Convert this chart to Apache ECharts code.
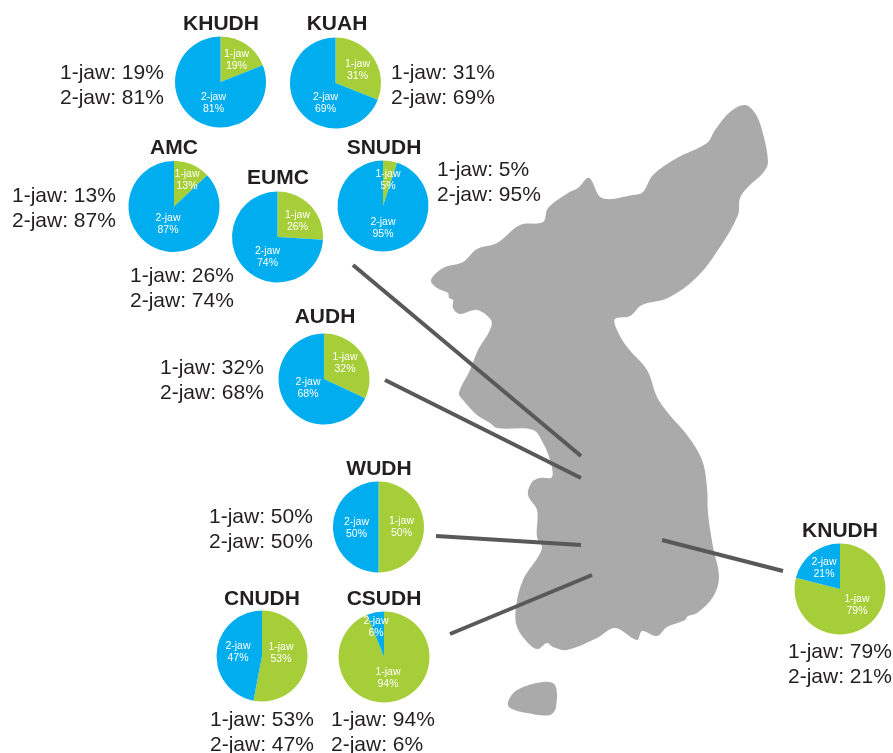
<!DOCTYPE html>
<html><head><meta charset="utf-8">
<style>html,body{margin:0;padding:0;background:#fff}#c{width:893px;height:753px}</style>
<script src="https://cdn.jsdelivr.net/npm/echarts@6/dist/echarts.min.js"></script>
</head><body><div id="c"></div>
<script>
// ---- values ----
const hospitals = ['KHUDH','KUAH','AMC','EUMC','SNUDH','AUDH','WUDH','CNUDH','CSUDH','KNUDH'];
const oneJaw = [19,31,13,26,5,32,50,53,94,79];
const twoJaw = [81,69,87,74,95,68,50,47,6,21];
const sliceNames = ['1-jaw','2-jaw'];
const sliceColors = ['#a6ce39','#00aeef'];

// ---- layout ----
const pieCenters = [[220.5,82],[335.5,83],[174,206.5],[277.5,237],[383,206],[324,379],[378.5,527],[262,656],[384,657],[840,589]];
const pieRadius = 45.5;
const titleCenters = [[221,24],[337,24],[174,148],[278,178],[384,148],[325,317],[379,469],[262,599],[384,599],[840,531]];
const captionAnchors = [[60,73],[391,73],[12,196],[130,276],[437,170],[160,368],[209,517],[210,720],[331,720],[788,652]];
const labelOffsets = [
  [[16,-22],[-7,21]],[[22,-13],[-10,20]],[[13,-26],[-6,18]],[[20,-16],[-10,20]],[[5,-26],[0,22]],
  [[21,-16],[-16,9]],[[23,0],[-22,1]],[[19,-3],[-24,-4]],[[4,21],[-8,-30]],[[17,16],[-16,-21]]
];
const mainland = [[745,105],[755,113],[762,130],[768,162],[763,173],[748,187],[740,198],[738,215],[720,247],[697,277],[668,298],[642,305],[630,316],[615,319],[617,330],[627,347],[647,370],[657,397],[668,413],[687,435],[702,460],[707,487],[708,513],[713,547],[719,577],[713,597],[697,613],[688,616],[685,620],[667,627],[657,636],[642,631],[637,640],[615,628],[597,638],[567,650],[553,647],[547,643],[538,649],[530,645],[517,627],[516,607],[523,580],[538,557],[542,547],[537,537],[537,510],[528,495],[532,482],[540,478],[552,477],[550,460],[543,443],[533,430],[497,428],[490,423],[477,415],[463,400],[459,393],[470,370],[478,350],[490,330],[491,320],[477,310],[460,314],[453,308],[453,300],[449,298],[448,293],[437,288],[431,280],[443,268],[463,262],[477,249],[497,243],[520,225],[543,222],[548,208],[568,193],[578,188],[589,178],[602,198],[633,195],[643,192],[653,175],[677,158],[707,143],[715,130],[730,112]];
const jeju = [[508,702],[517,690],[543,682],[555,685],[556,707],[550,715],[527,713],[510,708]];
const leaders = [[353,265,581,456],[385,380,581,478],[436,536,581,545],[662,540,783,571],[450,634,592,575]];

const FONT = '"Liberation Sans", Arial, sans-serif';
const INK = '#231f20';

const series = hospitals.map((h,i)=>({
  type:'pie', name:h, center:pieCenters[i], radius:[0,pieRadius],
  startAngle:90, clockwise:true, silent:true, animation:false, avoidLabelOverlap:false,
  label:{show:true, position:'inside', formatter:p=>p.name+'\n'+p.value+'%',
         color:'#fff', fontFamily:FONT, fontSize:10.5, lineHeight:12},
  labelLine:{show:false},
  labelLayout:p=>({x:pieCenters[i][0]+labelOffsets[i][p.dataIndex][0],
                   y:pieCenters[i][1]+labelOffsets[i][p.dataIndex][1],
                   align:'center', verticalAlign:'middle'}),
  data:[{name:sliceNames[0],value:oneJaw[i],itemStyle:{color:sliceColors[0]}},
        {name:sliceNames[1],value:twoJaw[i],itemStyle:{color:sliceColors[1]}}]
}));

const graphics = [];
[mainland,jeju].forEach(pts=>graphics.push({type:'polygon',z:0,silent:true,
  shape:{points:pts,smooth:0.35},style:{fill:'#aaaaaa'}}));
leaders.forEach(l=>graphics.push({type:'line',z:1,silent:true,
  shape:{x1:l[0],y1:l[1],x2:l[2],y2:l[3]},style:{stroke:'#595959',lineWidth:4}}));
hospitals.forEach((h,i)=>{
  graphics.push({type:'text',z:5,silent:true,x:titleCenters[i][0],y:titleCenters[i][1],
    style:{text:h,font:'bold 21px '+FONT,fill:INK,align:'center',verticalAlign:'middle'}});
  graphics.push({type:'text',z:5,silent:true,x:captionAnchors[i][0],y:captionAnchors[i][1],
    style:{text:sliceNames[0]+': '+oneJaw[i]+'%',font:'21px '+FONT,fill:INK,align:'left',verticalAlign:'middle'}});
  graphics.push({type:'text',z:5,silent:true,x:captionAnchors[i][0],y:captionAnchors[i][1]+25,
    style:{text:sliceNames[1]+': '+twoJaw[i]+'%',font:'21px '+FONT,fill:INK,align:'left',verticalAlign:'middle'}});
});

const chart = echarts.init(document.getElementById('c'),null,{renderer:'canvas'});
chart.setOption({animation:false,backgroundColor:'#fff',series:series,graphic:{elements:graphics}});
</script></body></html>
